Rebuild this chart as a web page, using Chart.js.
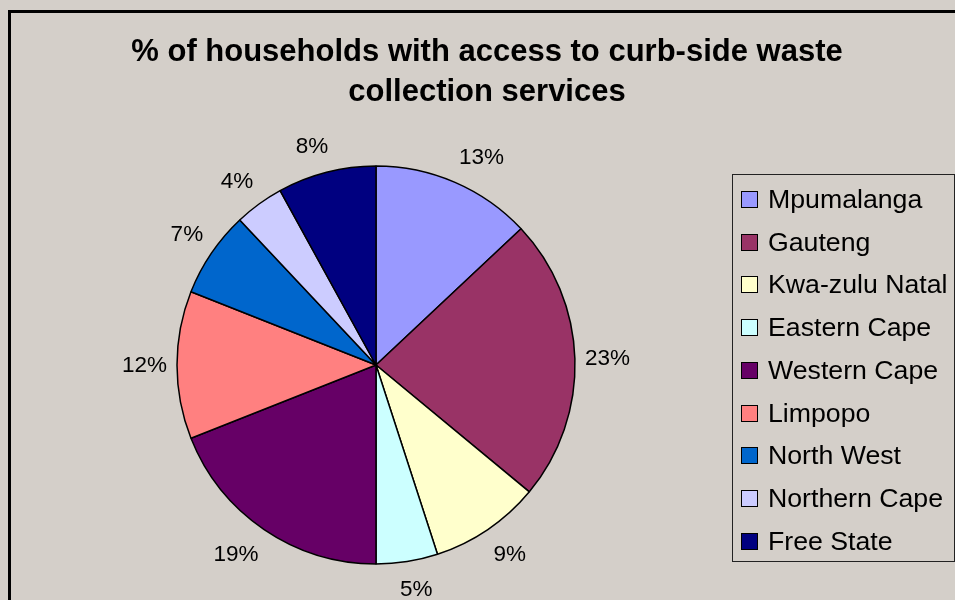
<!DOCTYPE html>
<html>
<head>
<meta charset="utf-8">
<script src="https://cdn.jsdelivr.net/npm/chart.js@4"></script>
<style>
  html, body { margin: 0; padding: 0; }
  body {
    width: 955px; height: 600px; overflow: hidden; position: relative;
    background: #d4cfc9; font-family: Arial, "Liberation Sans", sans-serif; color: #000;
  }
  #frame {
    position: absolute; left: 8px; top: 10px; width: 1000px; height: 700px;
    border-left: 3px solid #000; border-top: 3px solid #000;
  }
  #chart { position: absolute; left: 0; top: 0; }
  #title {
    position: absolute; left: 0; top: 31px; width: 974px;
    text-align: center; font-weight: bold; font-size: 31px; line-height: 40px;
  }
  #legend {
    position: absolute; left: 732px; top: 174px; width: 223px; height: 388px;
    box-sizing: border-box; border: 1px solid #222; padding-top: 3px;
  }
  .row { display: flex; align-items: center; height: 42.75px; font-size: 26.7px; white-space: nowrap; }
  .sw { width: 17px; height: 17px; box-sizing: border-box; border: 1.5px solid #000; margin: 0 10px 0 8px; flex: none; }
</style>
</head>
<body>
<div id="frame"></div>
<canvas id="chart" width="955" height="600"></canvas>
<div id="title">% of households with access to curb-side waste<br>collection services</div>
<div id="legend"></div>
<script>
// Data
const provinces = ["Mpumalanga", "Gauteng", "Kwa-zulu Natal", "Eastern Cape", "Western Cape",
                   "Limpopo", "North West", "Northern Cape", "Free State"];
const shares = [13, 23, 9, 5, 19, 12, 7, 4, 8];
const colors = ["#9999FF", "#993366", "#FFFFCC", "#CCFFFF", "#660066",
                "#FF8080", "#0066CC", "#CCCCFF", "#000080"];

// Legend
const legend = document.getElementById("legend");
provinces.forEach((name, i) => {
  const row = document.createElement("div");
  row.className = "row";
  row.innerHTML = `<span class="sw" style="background:${colors[i]}"></span><span>${name}</span>`;
  legend.appendChild(row);
});

const clamp = v => Math.max(-1, Math.min(1, v));

// Percent labels outside the slices (box corner sits just off the rim)
const pctLabels = {
  id: "pctLabels",
  afterDatasetsDraw(chart) {
    const ctx = chart.ctx;
    const meta = chart.getDatasetMeta(0);
    ctx.save();
    ctx.font = '22.5px Arial, "Liberation Sans", sans-serif';
    ctx.fillStyle = "#000";
    ctx.textAlign = "center";
    ctx.textBaseline = "middle";
    meta.data.forEach((arc, i) => {
      const p = arc.getProps(["x", "y", "startAngle", "endAngle", "outerRadius"], true);
      const mid = (p.startAngle + p.endAngle) / 2;
      const text = shares[i] + "%";
      const w = ctx.measureText(text).width;
      const h = 18;
      const dx = Math.cos(mid), dy = Math.sin(mid);
      const cx = p.x + (p.outerRadius + 10) * dx + clamp(3 * dx) * w / 2;
      const cy = p.y + (p.outerRadius + 18) * dy + clamp(3 * dy) * h / 2;
      ctx.fillText(text, cx, cy + 1);
    });
    ctx.restore();
  }
};

new Chart(document.getElementById("chart"), {
  type: "pie",
  data: {
    labels: provinces,
    datasets: [{
      data: shares,
      backgroundColor: colors,
      borderColor: "#000",
      borderWidth: 1.5,
      hoverBorderWidth: 1.5,
      hoverOffset: 0
    }]
  },
  options: {
    responsive: false,
    animation: false,
    devicePixelRatio: 1,
    radius: 199,
    layout: { padding: { left: 100, right: 303, top: 150, bottom: 20 } },
    plugins: {
      legend: { display: false },
      title: { display: false },
      tooltip: { enabled: false }
    }
  },
  plugins: [pctLabels]
});
</script>
</body>
</html>
